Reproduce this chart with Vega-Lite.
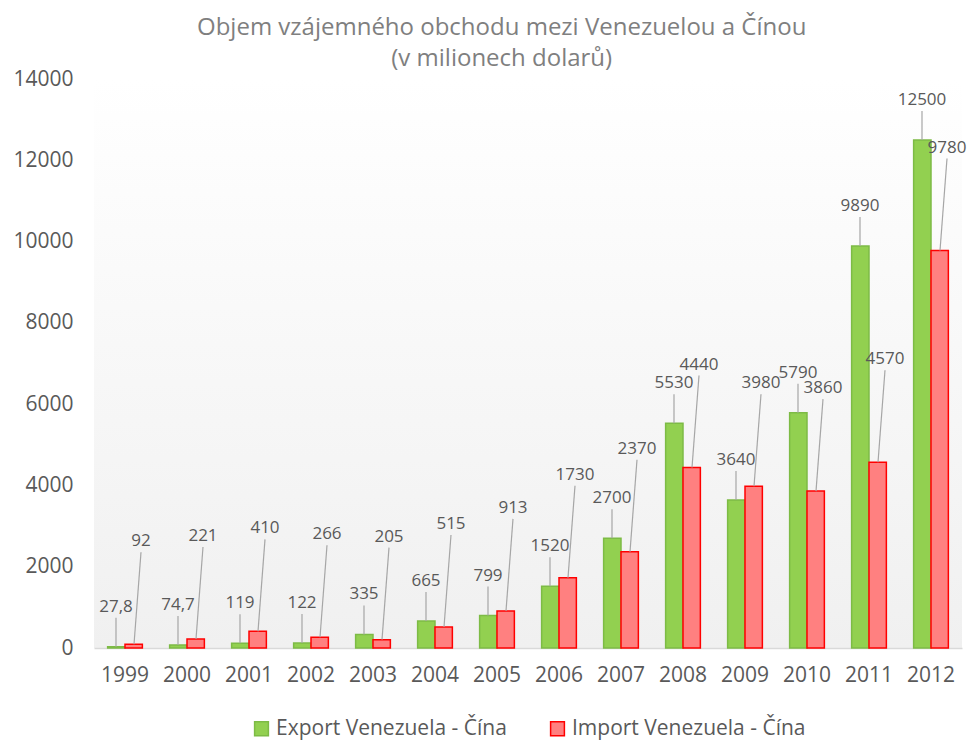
{
  "$schema": "https://vega.github.io/schema/vega-lite/v6.json",
  "width": 868,
  "height": 569,
  "padding": {"left": 12, "top": 16, "right": 10, "bottom": 2},
  "autosize": {"type": "pad"},
  "background": "white",
  "config": {
    "font": "Open Sans",
    "locale": {"number": {"decimal": ",", "thousands": "", "grouping": [3], "currency": ["", ""]}},
    "view": {"stroke": null, "fill": {"gradient": "linear", "x1": 0, "y1": 0, "x2": 0, "y2": 1, "stops": [{"offset": 0, "color": "#ffffff"}, {"offset": 1, "color": "#f0f0f0"}]}},
    "legend": {"layout": {"bottom": {"anchor": "middle"}}}
  },
  "title": {
    "text": ["Objem vzájemného obchodu mezi Venezuelou a Čínou", "(v milionech dolarů)"],
    "fontSize": 24,
    "fontWeight": "normal",
    "color": "#7f7f7f",
    "lineHeight": 31,
    "anchor": "middle",
    "frame": "bounds",
    "dx": 12,
    "offset": -3
  },
  "data": {
    "values": [
      {"year": "1999", "series": "Export Venezuela - Čína", "value": 27.8},
      {"year": "1999", "series": "Import Venezuela - Čína", "value": 92},
      {"year": "2000", "series": "Export Venezuela - Čína", "value": 74.7},
      {"year": "2000", "series": "Import Venezuela - Čína", "value": 221},
      {"year": "2001", "series": "Export Venezuela - Čína", "value": 119},
      {"year": "2001", "series": "Import Venezuela - Čína", "value": 410},
      {"year": "2002", "series": "Export Venezuela - Čína", "value": 122},
      {"year": "2002", "series": "Import Venezuela - Čína", "value": 266},
      {"year": "2003", "series": "Export Venezuela - Čína", "value": 335},
      {"year": "2003", "series": "Import Venezuela - Čína", "value": 205},
      {"year": "2004", "series": "Export Venezuela - Čína", "value": 665},
      {"year": "2004", "series": "Import Venezuela - Čína", "value": 515},
      {"year": "2005", "series": "Export Venezuela - Čína", "value": 799},
      {"year": "2005", "series": "Import Venezuela - Čína", "value": 913},
      {"year": "2006", "series": "Export Venezuela - Čína", "value": 1520},
      {"year": "2006", "series": "Import Venezuela - Čína", "value": 1730},
      {"year": "2007", "series": "Export Venezuela - Čína", "value": 2700},
      {"year": "2007", "series": "Import Venezuela - Čína", "value": 2370},
      {"year": "2008", "series": "Export Venezuela - Čína", "value": 5530},
      {"year": "2008", "series": "Import Venezuela - Čína", "value": 4440},
      {"year": "2009", "series": "Export Venezuela - Čína", "value": 3640},
      {"year": "2009", "series": "Import Venezuela - Čína", "value": 3980},
      {"year": "2010", "series": "Export Venezuela - Čína", "value": 5790},
      {"year": "2010", "series": "Import Venezuela - Čína", "value": 3860},
      {"year": "2011", "series": "Export Venezuela - Čína", "value": 9890},
      {"year": "2011", "series": "Import Venezuela - Čína", "value": 4570},
      {"year": "2012", "series": "Export Venezuela - Čína", "value": 12500},
      {"year": "2012", "series": "Import Venezuela - Čína", "value": 9780}
    ]
  },
  "encoding": {
    "x": {
      "field": "year", "type": "nominal", "title": null,
      "scale": {"paddingInner": 0.44, "paddingOuter": 0.22},
      "axis": {"labelAngle": 0, "labelFontSize": 21, "labelColor": "#595959", "ticks": false, "domainColor": "#d9d9d9", "domainWidth": 1.5, "labelPadding": 16}
    },
    "y": {
      "field": "value", "type": "quantitative", "title": null,
      "scale": {"domain": [0, 14000], "nice": false},
      "axis": {"values": [0, 2000, 4000, 6000, 8000, 10000, 12000, 14000], "grid": false, "domain": false, "ticks": false, "labelFontSize": 21, "labelColor": "#595959", "labelPadding": 21}
    }
  },
  "layer": [
    {
      "mark": {"type": "bar", "strokeWidth": 1.5},
      "encoding": {
        "xOffset": {"field": "series", "type": "nominal"},
        "color": {
          "field": "series", "type": "nominal", "title": null,
          "scale": {"range": ["#92D050", "#FF8080"]},
          "legend": {"orient": "bottom", "symbolType": "square", "symbolSize": 190, "labelFontSize": 21, "labelColor": "#595959", "columnPadding": 40, "offset": 33, "symbolStrokeWidth": 1.5, "labelLimit": 0}
        },
        "stroke": {
          "field": "series", "type": "nominal", "title": null,
          "scale": {"range": ["#7DBB45", "#FF0000"]},
          "legend": {"orient": "bottom", "symbolType": "square", "symbolSize": 190, "labelFontSize": 21, "labelColor": "#595959", "columnPadding": 40, "offset": 33, "symbolStrokeWidth": 1.5, "labelLimit": 0}
        }
      }
    },
    {
      "transform": [{"filter": "datum.series === 'Export Venezuela - Čína'"}],
      "mark": {"type": "rule", "color": "#a6a6a6", "strokeWidth": 1.2, "xOffset": -9, "x2Offset": -9, "y2Offset": -29},
      "encoding": {"x2": {"field": "year"}, "y2": {"field": "value"}}
    },
    {
      "transform": [{"filter": "datum.series === 'Import Venezuela - Čína'"}],
      "mark": {"type": "rule", "color": "#a6a6a6", "strokeWidth": 1.2, "xOffset": 9, "x2Offset": 16, "y2Offset": -92},
      "encoding": {"x2": {"field": "year"}, "y2": {"field": "value"}}
    },
    {
      "transform": [{"filter": "datum.series === 'Export Venezuela - Čína'"}],
      "mark": {"type": "text", "fontSize": 17, "color": "#595959", "baseline": "middle", "xOffset": -9, "yOffset": -40},
      "encoding": {"text": {"field": "value", "type": "quantitative", "format": "~r"}}
    },
    {
      "transform": [{"filter": "datum.series === 'Import Venezuela - Čína'"}],
      "mark": {"type": "text", "fontSize": 17, "color": "#595959", "baseline": "middle", "xOffset": 16, "yOffset": -103},
      "encoding": {"text": {"field": "value", "type": "quantitative", "format": "~r"}}
    }
  ]
}
